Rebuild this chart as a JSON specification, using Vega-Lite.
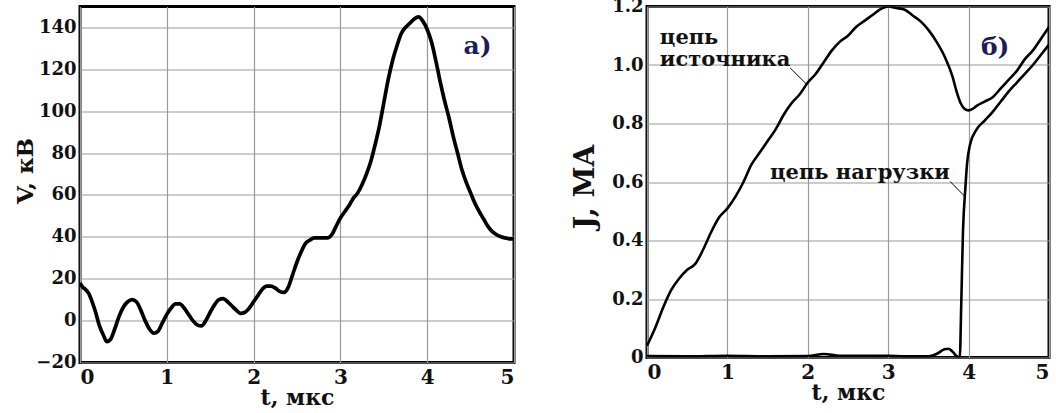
{
  "$schema": "https://vega.github.io/schema/vega-lite/v6.json",
  "background": "white",
  "padding": {"left": 12, "top": -4.5, "right": 0, "bottom": 0},
  "bounds": "flush",
  "spacing": 133,
  "datasets": {
    "volt": [
      {"t": 0, "V": 18}, {"t": 0.03, "V": 16}, {"t": 0.06, "V": 15}, {"t": 0.1, "V": 13}, {"t": 0.14, "V": 9}, {"t": 0.18, "V": 4}, {"t": 0.22, "V": -2}, {"t": 0.27, "V": -7}, {"t": 0.31, "V": -10}, {"t": 0.35, "V": -9}, {"t": 0.4, "V": -4}, {"t": 0.45, "V": 2}, {"t": 0.5, "V": 6.5}, {"t": 0.55, "V": 9}, {"t": 0.6, "V": 10}, {"t": 0.65, "V": 9}, {"t": 0.7, "V": 5}, {"t": 0.75, "V": 0}, {"t": 0.8, "V": -4}, {"t": 0.85, "V": -6}, {"t": 0.9, "V": -5}, {"t": 0.95, "V": -1}, {"t": 1.0, "V": 3}, {"t": 1.05, "V": 6}, {"t": 1.1, "V": 8}, {"t": 1.15, "V": 8}, {"t": 1.2, "V": 6}, {"t": 1.25, "V": 3}, {"t": 1.3, "V": 0}, {"t": 1.35, "V": -2}, {"t": 1.4, "V": -2.5}, {"t": 1.45, "V": 0}, {"t": 1.5, "V": 4}, {"t": 1.55, "V": 7.5}, {"t": 1.6, "V": 10}, {"t": 1.65, "V": 10.5}, {"t": 1.7, "V": 9}, {"t": 1.75, "V": 7}, {"t": 1.8, "V": 5}, {"t": 1.85, "V": 3.5}, {"t": 1.9, "V": 4}, {"t": 1.95, "V": 6}, {"t": 2.0, "V": 9}, {"t": 2.05, "V": 12}, {"t": 2.1, "V": 15}, {"t": 2.15, "V": 16.5}, {"t": 2.2, "V": 16.5}, {"t": 2.25, "V": 15.5}, {"t": 2.3, "V": 14}, {"t": 2.35, "V": 13.5}, {"t": 2.4, "V": 16}, {"t": 2.45, "V": 22}, {"t": 2.5, "V": 28}, {"t": 2.55, "V": 33}, {"t": 2.6, "V": 37}, {"t": 2.65, "V": 38.5}, {"t": 2.7, "V": 39.5}, {"t": 2.75, "V": 39.5}, {"t": 2.8, "V": 39.5}, {"t": 2.85, "V": 39.5}, {"t": 2.9, "V": 41}, {"t": 2.95, "V": 45}, {"t": 3.0, "V": 49}, {"t": 3.05, "V": 52}, {"t": 3.1, "V": 55}, {"t": 3.15, "V": 58.5}, {"t": 3.2, "V": 61}, {"t": 3.25, "V": 65}, {"t": 3.3, "V": 70}, {"t": 3.35, "V": 76}, {"t": 3.4, "V": 84}, {"t": 3.45, "V": 93}, {"t": 3.5, "V": 104}, {"t": 3.55, "V": 115}, {"t": 3.6, "V": 124}, {"t": 3.65, "V": 131}, {"t": 3.7, "V": 137}, {"t": 3.75, "V": 140}, {"t": 3.8, "V": 142}, {"t": 3.85, "V": 144}, {"t": 3.9, "V": 145}, {"t": 3.95, "V": 143}, {"t": 4.0, "V": 139}, {"t": 4.05, "V": 133}, {"t": 4.1, "V": 124}, {"t": 4.15, "V": 114}, {"t": 4.2, "V": 105}, {"t": 4.25, "V": 97}, {"t": 4.3, "V": 88}, {"t": 4.35, "V": 80}, {"t": 4.4, "V": 72}, {"t": 4.45, "V": 66}, {"t": 4.5, "V": 61}, {"t": 4.55, "V": 56}, {"t": 4.6, "V": 52}, {"t": 4.65, "V": 48.5}, {"t": 4.7, "V": 45}, {"t": 4.75, "V": 42.5}, {"t": 4.8, "V": 41}, {"t": 4.85, "V": 40}, {"t": 4.9, "V": 39.5}, {"t": 4.95, "V": 39}, {"t": 5.0, "V": 39}
    ],
    "curr": [
      {"s": "src", "t": 0, "J": 0.04}, {"s": "src", "t": 0.1, "J": 0.1}, {"s": "src", "t": 0.2, "J": 0.17}, {"s": "src", "t": 0.3, "J": 0.23}, {"s": "src", "t": 0.4, "J": 0.27}, {"s": "src", "t": 0.5, "J": 0.3}, {"s": "src", "t": 0.6, "J": 0.32}, {"s": "src", "t": 0.7, "J": 0.37}, {"s": "src", "t": 0.8, "J": 0.43}, {"s": "src", "t": 0.9, "J": 0.48}, {"s": "src", "t": 1.0, "J": 0.51}, {"s": "src", "t": 1.1, "J": 0.55}, {"s": "src", "t": 1.2, "J": 0.6}, {"s": "src", "t": 1.3, "J": 0.66}, {"s": "src", "t": 1.4, "J": 0.7}, {"s": "src", "t": 1.5, "J": 0.74}, {"s": "src", "t": 1.6, "J": 0.78}, {"s": "src", "t": 1.7, "J": 0.83}, {"s": "src", "t": 1.8, "J": 0.87}, {"s": "src", "t": 1.9, "J": 0.9}, {"s": "src", "t": 2.0, "J": 0.94}, {"s": "src", "t": 2.1, "J": 0.97}, {"s": "src", "t": 2.2, "J": 1.01}, {"s": "src", "t": 2.3, "J": 1.05}, {"s": "src", "t": 2.4, "J": 1.08}, {"s": "src", "t": 2.5, "J": 1.1}, {"s": "src", "t": 2.6, "J": 1.13}, {"s": "src", "t": 2.7, "J": 1.15}, {"s": "src", "t": 2.8, "J": 1.17}, {"s": "src", "t": 2.9, "J": 1.19}, {"s": "src", "t": 3.0, "J": 1.2}, {"s": "src", "t": 3.1, "J": 1.195}, {"s": "src", "t": 3.2, "J": 1.19}, {"s": "src", "t": 3.3, "J": 1.17}, {"s": "src", "t": 3.4, "J": 1.15}, {"s": "src", "t": 3.5, "J": 1.12}, {"s": "src", "t": 3.6, "J": 1.08}, {"s": "src", "t": 3.7, "J": 1.03}, {"s": "src", "t": 3.8, "J": 0.96}, {"s": "src", "t": 3.85, "J": 0.91}, {"s": "src", "t": 3.9, "J": 0.87}, {"s": "src", "t": 3.95, "J": 0.85}, {"s": "src", "t": 4.0, "J": 0.845}, {"s": "src", "t": 4.05, "J": 0.85}, {"s": "src", "t": 4.1, "J": 0.86}, {"s": "src", "t": 4.2, "J": 0.875}, {"s": "src", "t": 4.3, "J": 0.89}, {"s": "src", "t": 4.4, "J": 0.92}, {"s": "src", "t": 4.5, "J": 0.95}, {"s": "src", "t": 4.6, "J": 0.98}, {"s": "src", "t": 4.7, "J": 1.02}, {"s": "src", "t": 4.8, "J": 1.05}, {"s": "src", "t": 4.9, "J": 1.09}, {"s": "src", "t": 5.0, "J": 1.13},
      {"s": "load", "t": 0, "J": 0.005}, {"s": "load", "t": 0.5, "J": 0.004}, {"s": "load", "t": 1.0, "J": 0.006}, {"s": "load", "t": 1.5, "J": 0.004}, {"s": "load", "t": 2.0, "J": 0.005}, {"s": "load", "t": 2.2, "J": 0.012}, {"s": "load", "t": 2.4, "J": 0.006}, {"s": "load", "t": 3.0, "J": 0.006}, {"s": "load", "t": 3.2, "J": 0.004}, {"s": "load", "t": 3.5, "J": 0.004}, {"s": "load", "t": 3.6, "J": 0.012}, {"s": "load", "t": 3.7, "J": 0.028}, {"s": "load", "t": 3.75, "J": 0.03}, {"s": "load", "t": 3.8, "J": 0.02}, {"s": "load", "t": 3.85, "J": 0.005}, {"s": "load", "t": 3.89, "J": 0}, {"s": "load", "t": 3.91, "J": 0.2}, {"s": "load", "t": 3.93, "J": 0.43}, {"s": "load", "t": 3.96, "J": 0.58}, {"s": "load", "t": 3.98, "J": 0.66}, {"s": "load", "t": 4.02, "J": 0.73}, {"s": "load", "t": 4.1, "J": 0.78}, {"s": "load", "t": 4.2, "J": 0.81}, {"s": "load", "t": 4.3, "J": 0.84}, {"s": "load", "t": 4.4, "J": 0.875}, {"s": "load", "t": 4.5, "J": 0.91}, {"s": "load", "t": 4.6, "J": 0.94}, {"s": "load", "t": 4.7, "J": 0.97}, {"s": "load", "t": 4.8, "J": 1.0}, {"s": "load", "t": 4.9, "J": 1.035}, {"s": "load", "t": 5.0, "J": 1.07}
    ],
    "notesR": [
      {"t": 0.16, "J": 1.092, "label": "цепь"},
      {"t": 0.16, "J": 1.016, "label": "источника"},
      {"t": 1.53, "J": 0.632, "label": "цепь нагрузки"}
    ],
    "leaders": [
      {"t": 1.78, "J": 0.99, "t2": 1.99, "J2": 0.933},
      {"t": 3.77, "J": 0.602, "t2": 3.955, "J2": 0.55}
    ]
  },
  "hconcat": [
    {
      "width": 434,
      "height": 356,
      "layer": [
        {
          "data": {"name": "volt"},
          "mark": {"type": "line", "color": "black", "strokeWidth": 3.7, "interpolate": "monotone", "clip": true},
          "encoding": {
            "x": {"field": "t", "type": "quantitative", "scale": {"domain": [0, 5], "nice": false},
                  "axis": {"title": "t, мкс", "titleFontSize": 22, "values": [0, 1, 2, 3, 4, 5], "format": "d", "labelFontSize": 20, "labelPadding": 5, "titlePadding": 0}},
            "y": {"field": "V", "type": "quantitative", "scale": {"domain": [-20, 150], "nice": false},
                  "axis": {"title": "V, кВ", "titleFontSize": 23, "titleX": -55, "titleY": 164, "titleBaseline": "middle", "values": [-20, 0, 20, 40, 60, 80, 100, 120, 140], "format": "d", "labelPadding": 4}}
          }
        },
        {
          "data": {"values": [{"t": 4.58, "V": 131, "label": "а)"}]},
          "mark": {"type": "text", "font": "DejaVu Serif", "fontWeight": "bold", "fontSize": 25, "color": "#1c1c5a", "align": "center", "baseline": "middle"},
          "encoding": {
            "x": {"field": "t", "type": "quantitative"},
            "y": {"field": "V", "type": "quantitative"},
            "text": {"field": "label"}
          }
        }
      ]
    },
    {
      "width": 402,
      "height": 351,
      "layer": [
        {
          "data": {"name": "curr"},
          "mark": {"type": "line", "color": "black", "strokeWidth": 2.6, "interpolate": "monotone", "clip": true},
          "encoding": {
            "x": {"field": "t", "type": "quantitative", "scale": {"domain": [0, 5], "nice": false},
                  "axis": {"title": "t, мкс", "titleFontSize": 22, "values": [0, 1, 2, 3, 4, 5], "format": "d", "labelFontSize": 20, "labelPadding": 5, "titlePadding": 0}},
            "y": {"field": "J", "type": "quantitative", "scale": {"domain": [0, 1.2], "nice": false},
                  "axis": {"title": "J, MA", "titleFontSize": 28, "titleX": -62, "titleY": 180, "titleBaseline": "middle", "values": [0, 0.2, 0.4, 0.6, 0.8, 1.0, 1.2], "labelExpr": "datum.value == 0 ? '0' : format(datum.value, '.1f')", "labelPadding": 4}},
            "detail": {"field": "s"}
          }
        },
        {
          "data": {"name": "leaders"},
          "mark": {"type": "rule", "color": "black", "strokeWidth": 1},
          "encoding": {
            "x": {"field": "t", "type": "quantitative"},
            "y": {"field": "J", "type": "quantitative"},
            "x2": {"field": "t2"},
            "y2": {"field": "J2"}
          }
        },
        {
          "data": {"name": "notesR"},
          "mark": {"type": "text", "font": "DejaVu Serif", "fontWeight": "bold", "fontSize": 21, "color": "#111", "align": "left", "baseline": "middle"},
          "encoding": {
            "x": {"field": "t", "type": "quantitative"},
            "y": {"field": "J", "type": "quantitative"},
            "text": {"field": "label"}
          }
        },
        {
          "data": {"values": [{"t": 4.33, "J": 1.063, "label": "б)"}]},
          "mark": {"type": "text", "font": "DejaVu Serif", "fontWeight": "bold", "fontSize": 25, "color": "#1c1c5a", "align": "center", "baseline": "middle"},
          "encoding": {
            "x": {"field": "t", "type": "quantitative"},
            "y": {"field": "J", "type": "quantitative"},
            "text": {"field": "label"}
          }
        }
      ]
    }
  ],
  "config": {
    "view": {"stroke": "black", "strokeWidth": 3},
    "axis": {
      "domain": false, "ticks": false, "grid": true, "gridColor": "#9a9a9a", "gridWidth": 1.2,
      "labelFont": "DejaVu Serif", "labelFontWeight": "bold", "labelFontSize": 18, "labelColor": "#111",
      "titleFont": "DejaVu Serif", "titleFontWeight": "bold", "titleFontSize": 21, "titleColor": "#111"
    }
  }
}
